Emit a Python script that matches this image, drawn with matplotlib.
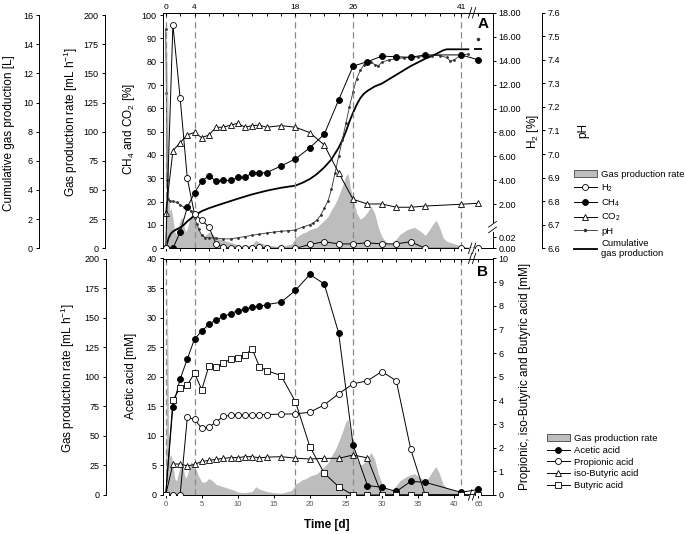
import numpy as np
import matplotlib
matplotlib.use("Agg")
import matplotlib.pyplot as plt
from matplotlib.patches import Patch
from matplotlib.lines import Line2D
from matplotlib.ticker import FixedLocator, FuncFormatter, NullFormatter, NullLocator

plt.rcParams['font.family'] = ['Liberation Sans', 'DejaVu Sans']
plt.rcParams['mathtext.fontset'] = 'custom'
plt.rcParams['mathtext.rm'] = 'Liberation Sans'
plt.rcParams['mathtext.it'] = 'Liberation Sans:italic'
plt.rcParams['axes.linewidth'] = 0.7
plt.rcParams['xtick.major.width'] = 0.7
plt.rcParams['ytick.major.width'] = 0.7
plt.rcParams['xtick.major.size'] = 2.5
plt.rcParams['ytick.major.size'] = 2.5

# ---------------- data ----------------
days = [0, 1, 2, 3, 4, 5, 6, 7, 8, 9, 10, 11, 12, 13, 14, 16, 18, 20, 22, 24, 26, 28, 30, 32, 34, 36, 41, 65]

# panel A: gas composition
h2 = [0, 17.0, 10.9, 4.16, 1.40, 1.06, 0.62, 0.008, 0.002, 0, 0, 0, 0, 0.002, 0, 0, 0,
      0.007, 0.012, 0.008, 0.008, 0.010, 0.008, 0.008, 0.012, 0, 0, 0]
ch4 = [0, 0, 6.9, 17.6, 23.8, 28.8, 31.1, 28.8, 29.1, 29.1, 30.4, 30.4, 32.4, 32.4, 32.4, 35.3,
       38.3, 43.1, 48.9, 63.6, 78.1, 80.0, 82.4, 82.1, 81.9, 82.9, 82.9, 80.8]
co2 = [15.0, 41.8, 45.3, 48.6, 49.7, 47.4, 48.6, 51.9, 51.9, 52.8, 53.6, 51.9, 52.6, 52.8, 51.9,
       52.6, 51.9, 49.6, 44.3, 32.4, 21.0, 19.0, 19.0, 17.6, 17.6, 18.1, 18.9, 19.3]

ph_days = [0, 0.1, 0.2, 0.35, 0.6, 1.0, 1.5, 2.0, 2.5, 3.0, 3.5, 4.0, 4.3, 4.6, 5.0, 5.5, 6.0,
           7, 8, 9, 10, 11, 12, 13, 14, 15, 16, 17, 18,
           19, 20, 20.5, 21, 21.5, 22, 22.5, 23, 23.5, 24, 24.5, 25, 25.5, 26, 26.5, 27, 27.5,
           28, 28.5, 29, 29.5, 30, 31, 32, 33, 34, 35, 36, 37, 38, 39, 39.5, 40, 41, 42]
ph_vals = [7.53, 7.26, 6.89, 6.81, 6.80, 6.80, 6.795, 6.785, 6.775, 6.77, 6.76, 6.73, 6.705, 6.68,
           6.655, 6.645, 6.645,
           6.643, 6.64, 6.64, 6.645, 6.65, 6.655, 6.66, 6.665, 6.669, 6.672, 6.675, 6.678,
           6.69, 6.70, 6.708, 6.72, 6.74, 6.77, 6.80, 6.85, 6.92, 6.99, 7.06, 7.13, 7.2, 7.265,
           7.32, 7.355, 7.378, 7.385, 7.39, 7.38, 7.375, 7.39,
           7.40, 7.405, 7.408, 7.41, 7.412, 7.415, 7.418, 7.418, 7.41, 7.395, 7.40, 7.42, 7.425]
ph_end = 7.488  # day 65

cum_days = [0, 0.2, 0.4, 0.7, 1.0, 1.5, 2.0, 2.5, 3.0, 3.5, 4.0, 5, 6, 7, 8, 10, 12, 14, 16, 18,
            19, 20, 21, 22, 23, 24, 24.5, 25, 25.5, 26, 26.5, 27, 27.5, 28,
            29, 30, 31, 32, 33, 34, 35, 36, 37, 38, 38.5, 39, 41, 42]
cum_vals = [0, 0.35, 0.7, 1.0, 1.15, 1.3, 1.42, 1.6, 1.85, 2.05, 2.25, 2.55, 2.75, 2.92, 3.08,
            3.4, 3.7, 3.95, 4.15, 4.3,
            4.5, 4.75, 5.1, 5.55, 6.1, 6.9, 7.4, 8.0, 8.7, 9.3, 9.85, 10.3, 10.6, 10.8,
            11.1, 11.3, 11.6, 11.9, 12.2, 12.5, 12.75, 13.0, 13.2, 13.45, 13.58, 13.65, 13.65, 13.65]
cum_end = 13.65  # day 65

rate_days = [0, 0.1, 0.2, 0.3, 0.4, 0.55, 0.75, 1.0, 1.25, 1.5,
             1.75, 2.0, 2.25, 2.5, 2.75, 3.0, 3.25, 3.5, 3.75, 4.0,
             4.25, 4.5, 4.75, 5.0, 5.5, 6.0, 6.5, 7.0, 7.5, 8.0,
             8.5, 9.0, 9.5, 10, 11, 12, 12.5, 13, 14, 15,
             16, 17, 17.5, 18, 18.5, 19, 19.5, 20, 20.5, 21,
             21.5, 22, 22.5, 23, 23.5, 24, 24.5, 25, 25.3, 25.6,
             26, 26.5, 27, 27.5, 28, 28.5, 29, 29.5, 30, 30.5,
             31, 31.5, 32, 32.5, 33, 33.5, 34, 34.5, 35, 35.5,
             36, 36.5, 37, 37.5, 38, 38.5, 39, 40, 41, 42]
rate_vals = [0, 90, 175, 125, 50, 32, 34, 26, 14, 12,
             18, 24, 27, 20, 14, 17, 23, 28, 27, 24,
             21, 17, 14, 11, 11, 14, 12, 9, 8, 7,
             6, 5, 4, 2.5, 2, 3, 7, 5, 3, 2,
             1.5, 3, 4, 9, 11, 13, 14, 16, 17, 18,
             21, 24, 27, 33, 38, 45, 53, 62, 64, 53,
             42, 30, 25, 27, 31, 36, 30, 18, 10, 6,
             4, 5, 8, 12, 14, 16, 17, 18, 16, 14,
             11, 15, 20, 24, 18, 9, 6, 4, 2, 0]

# panel B: volatile fatty acids [mM]
acetic = [0, 14.95, 19.6, 23.0, 26.4, 27.7, 28.9, 29.6, 30.2, 30.65, 31.2, 31.4, 31.8, 31.9, 32.2,
          32.6, 34.6, 37.3, 35.7, 27.4, 8.5, 1.6, 1.3, 0.6, 2.3, 2.15, 0.45, 0.95]
propionic = [0, 0, 0, 3.28, 3.2, 2.82, 2.86, 3.10, 3.32, 3.37, 3.4, 3.4, 3.37, 3.39, 3.4, 3.42,
             3.43, 3.50, 3.81, 4.28, 4.70, 4.83, 5.22, 4.83, 1.94, 0, 0, 0]
isobutyric = [0, 1.31, 1.31, 1.23, 1.29, 1.42, 1.46, 1.51, 1.55, 1.58, 1.58, 1.62, 1.62, 1.57,
              1.60, 1.62, 1.56, 1.52, 1.55, 1.55, 1.69, 1.57, 0, 0, 0, 0, 0, 0]
butyric = [0, 4.02, 4.52, 4.66, 5.15, 4.45, 5.46, 5.43, 5.57, 5.75, 5.81, 5.93, 6.17, 5.43, 5.26,
           5.05, 3.95, 2.05, 0.92, 0.35, 0, 0, 0, 0, 0, 0, 0, 0]

event_days = [0, 4, 18, 26, 41]
top_labels = [0, 4, 18, 26, 41]


# broken time axis: 42 d .. 65 d squeezed into a short stretch
def t_fwd(d):
    return np.interp(d, [-10, 42, 65, 120], [-10, 42, 43.4, 46])


def t_inv(x):
    return np.interp(x, [-10, 42, 43.4, 46], [-10, 42, 65, 120])


# broken H2 axis: 0..0.02 below the break, 2..18 above
h2_v = [-1, 0, 0.02, 2, 18, 40]
h2_p = [-235.5, 0, 4.71, 18.86, 101, 214]


def h2_fwd(h):
    return np.interp(h, h2_v, h2_p)


def h2_inv(y):
    return np.interp(y, h2_p, h2_v)


W, H = 686.0, 534.0


def rect(l, t, r, b):
    return [l / W, 1 - b / H, (r - l) / W, (b - t) / H]


def px(x, y):
    return x / W, 1 - y / H


def only_spine(ax, side):
    for s in ax.spines.values():
        s.set_visible(False)
    ax.spines[side].set_visible(True)


def brk(ax, x, y, vertical_spine=False):
    kw = dict(transform=ax.transAxes, clip_on=False, zorder=20)
    if vertical_spine:
        ax.plot([x, x], [y - 0.012, y + 0.012], color='white', lw=2.0, **kw)
        for dy in (-0.012, 0.012):
            ax.plot([x - 0.012, x + 0.012], [y + dy - 0.012, y + dy + 0.012], color='k', lw=0.6, **kw)
    else:
        ax.plot([x - 0.006, x + 0.006], [y, y], color='white', lw=2.0, **kw)
        for dx in (-0.006, 0.006):
            ax.plot([x + dx - 0.005, x + dx + 0.005], [y - 0.022, y + 0.022], color='k', lw=0.6, **kw)


gray = '#bdbdbd'
dash = dict(color='#8a8a8a', lw=0.9, ls=(0, (5, 3)))
mk = dict(color='k', lw=0.7, ms=4.3, mew=0.6, mec='k')
xmax = t_inv(45.35)
xt_small = list(range(0, 41, 2)) + [41, 65]
tick_fs = 6.5
lab_fs = 8.5

fig = plt.figure(figsize=(6.86, 5.34), dpi=100)
fig.patch.set_facecolor('white')

# ================= panel A =================
axA = fig.add_axes(rect(163, 12.7, 492.5, 248.3))
axA.set_xscale('function', functions=(t_fwd, t_inv))
axA.set_xlim(-0.375, xmax)

rateA = axA.twinx()
cumA = axA.twinx()
phA = axA.twinx()
h2A = axA.twinx()
topA = axA.twiny()
rateA.set_zorder(1)
cumA.set_zorder(2)
phA.set_zorder(2)
axA.set_zorder(3)
h2A.set_zorder(4)
topA.set_zorder(5)
axA.patch.set_visible(False)

rateA.fill_between(rate_days, rate_vals, 0, color=gray, lw=0)
rateA.set_ylim(0, 202)
only_spine(rateA, 'left')
rateA.spines['left'].set_position(('axes', -0.176))
rateA.spines['left'].set_bounds(0, 200)
rateA.yaxis.set_ticks_position('left')
rateA.set_yticks(np.arange(0, 201, 25))

cumA.plot(cum_days, cum_vals, color='k', lw=1.3)
cumA.plot([65], [cum_end], color='k', marker='_', ms=6, mew=1.3, ls='none')
cumA.set_ylim(0, 16.16)
only_spine(cumA, 'left')
cumA.spines['left'].set_position(('axes', -0.3754))
cumA.spines['left'].set_bounds(0, 16)
cumA.yaxis.set_ticks_position('left')
cumA.set_yticks(np.arange(0, 17, 2))

phA.plot(ph_days, ph_vals, color='#333333', lw=0.6, marker='.', ms=2.0)
phA.plot([65], [ph_end], color='#333333', marker='.', ms=3, ls='none')
phA.set_ylim(6.6, 7.6)
only_spine(phA, 'right')
phA.spines['right'].set_position(('axes', 1.149))
phA.spines['right'].set_bounds(6.6, 7.6)
phA.set_yticks(np.round(np.arange(6.6, 7.61, 0.1), 1))
phA.yaxis.set_major_formatter(FuncFormatter(lambda v, p: f'{v:.1f}'))

for d in event_days:
    axA.axvline(d, zorder=0.5, **dash)
axA.plot(days, co2, marker='^', mfc='white', zorder=3, **mk)
axA.plot(days, ch4, marker='o', mfc='k', zorder=3, **mk)
axA.set_ylim(0, 101)
axA.set_yticks(np.arange(0, 101, 10))
axA.spines['right'].set_visible(False)
axA.xaxis.set_major_locator(FixedLocator(xt_small))
axA.xaxis.set_major_formatter(NullFormatter())
axA.xaxis.set_minor_locator(NullLocator())
axA.tick_params(axis='x', direction='out', length=2.5)

h2A.set_yscale('function', functions=(h2_fwd, h2_inv))
h2A.plot(days, h2, marker='o', mfc='white', **mk)
h2A.set_ylim(0, 18)
only_spine(h2A, 'right')
h2A.yaxis.set_major_locator(FixedLocator([0, 0.02] + list(range(2, 19, 2))))
h2A.yaxis.set_minor_locator(NullLocator())
h2A.yaxis.set_major_formatter(FuncFormatter(lambda v, p: f'{v:.2f}'))

topA.set_xscale('function', functions=(t_fwd, t_inv))
topA.set_xlim(-0.375, xmax)
only_spine(topA, 'top')
topA.xaxis.set_major_locator(FixedLocator(xt_small))
topA.xaxis.set_minor_locator(NullLocator())
topA.xaxis.set_major_formatter(FuncFormatter(lambda v, p: f'{v:.0f}' if round(v) in top_labels else ''))
topA.tick_params(axis='x', direction='in', length=2.5, labelsize=6, pad=1.5)

for a in (rateA, cumA, phA, axA, h2A):
    a.tick_params(axis='y', labelsize=tick_fs, pad=2, direction='out')

brk(axA, 0.938, 1.0)
brk(axA, 0.938, 0.0)
brk(h2A, 1.0, 0.09, vertical_spine=True)

fig.text(*px(483, 24), 'A', fontsize=11, fontweight='bold', ha='center', va='center')

# ================= panel B =================
axB = fig.add_axes(rect(163, 258.5, 492.5, 495))
axB.set_xscale('function', functions=(t_fwd, t_inv))
axB.set_xlim(-0.375, xmax)

rateB = axB.twinx()
rightB = axB.twinx()
topB = axB.twiny()
rateB.set_zorder(1)
axB.set_zorder(3)
rightB.set_zorder(4)
topB.set_zorder(5)
axB.patch.set_visible(False)

rateB.fill_between(rate_days, rate_vals, 0, color=gray, lw=0)
rateB.set_ylim(0, 200)
only_spine(rateB, 'left')
rateB.spines['left'].set_position(('axes', -0.173))
rateB.yaxis.set_ticks_position('left')
rateB.set_yticks(np.arange(0, 201, 25))

for d in event_days:
    axB.axvline(d, zorder=0.5, **dash)
axB.plot(days, acetic, marker='o', mfc='k', zorder=3, **mk)
axB.set_ylim(0, 40)
axB.set_yticks(np.arange(0, 41, 5))
axB.spines['right'].set_visible(False)
axB.xaxis.set_major_locator(FixedLocator(list(range(0, 41, 5)) + [65]))
axB.xaxis.set_minor_locator(NullLocator())
axB.xaxis.set_major_formatter(FuncFormatter(lambda v, p: f'{v:.0f}'))
axB.tick_params(axis='x', direction='out', length=2.5, labelsize=5.5, labelcolor='#555555', pad=2)

rightB.plot(days, propionic, marker='o', mfc='white', **mk)
rightB.plot(days, isobutyric, marker='^', mfc='white', **mk)
rightB.plot(days, butyric, marker='s', mfc='white', **mk)
rightB.set_ylim(0, 10)
only_spine(rightB, 'right')
rightB.set_yticks(np.arange(0, 11, 1))

topB.set_xscale('function', functions=(t_fwd, t_inv))
topB.set_xlim(-0.375, xmax)
only_spine(topB, 'top')
topB.xaxis.set_major_locator(FixedLocator(xt_small))
topB.xaxis.set_minor_locator(NullLocator())
topB.xaxis.set_major_formatter(NullFormatter())
topB.tick_params(axis='x', direction='in', length=2.5)

for a in (rateB, axB, rightB):
    a.tick_params(axis='y', labelsize=tick_fs, pad=2, direction='out')

brk(axB, 0.938, 1.0)
brk(axB, 0.938, 0.0)

fig.text(*px(483, 272), 'B', fontsize=11, fontweight='bold', ha='center', va='center')

# ---------------- axis titles ----------------
vt = dict(rotation=90, ha='center', va='center', fontsize=lab_fs)
fig.text(*px(9, 133), 'Cumulative gas production [L]', **vt)
fig.text(*px(71, 122), 'Gas production rate [mL h$^{-1}$]', **vt)
fig.text(*px(129, 129), 'CH$_4$ and CO$_2$ [%]', **vt)
fig.text(*px(533, 132), 'H$_2$ [%]', **vt)
fig.text(*px(583, 131), 'pH', **vt)
fig.text(*px(68, 378), 'Gas production rate [mL h$^{-1}$]', **vt)
fig.text(*px(131, 376), 'Acetic acid [mM]', **vt)
fig.text(*px(525, 376), 'Propionic, iso-Butyric and Butyric acid [mM]', **vt)
fig.text(*px(327, 525), 'Time [d]', ha='center', va='center', fontsize=lab_fs, fontweight='bold')

# ---------------- legends ----------------
gas_patch = Patch(facecolor=gray, edgecolor='#444444', lw=0.6, label='Gas production rate')
hA = [gas_patch,
      Line2D([], [], marker='o', mfc='white', label='H$_2$', **mk),
      Line2D([], [], marker='o', mfc='k', label='CH$_4$', **mk),
      Line2D([], [], marker='^', mfc='white', label='CO$_2$', **mk),
      Line2D([], [], color='#333333', lw=0.6, marker='.', ms=3, label='pH'),
      Line2D([], [], color='k', lw=1.3, label='Cumulative\ngas production')]
fig.legend(handles=hA, loc='upper left', bbox_to_anchor=px(574, 170), frameon=False,
           fontsize=6.8, handlelength=2.4, handletextpad=0.5, labelspacing=0.35,
           borderpad=0, borderaxespad=0)

hB = [gas_patch,
      Line2D([], [], marker='o', mfc='k', label='Acetic acid', **mk),
      Line2D([], [], marker='o', mfc='white', label='Propionic acid', **mk),
      Line2D([], [], marker='^', mfc='white', label='iso-Butyric acid', **mk),
      Line2D([], [], marker='s', mfc='white', label='Butyric acid', **mk)]
fig.legend(handles=hB, loc='upper left', bbox_to_anchor=px(547, 434), frameon=False,
           fontsize=6.8, handlelength=2.4, handletextpad=0.5, labelspacing=0.3,
           borderpad=0, borderaxespad=0)

fig.savefig('out.png', dpi=100)
